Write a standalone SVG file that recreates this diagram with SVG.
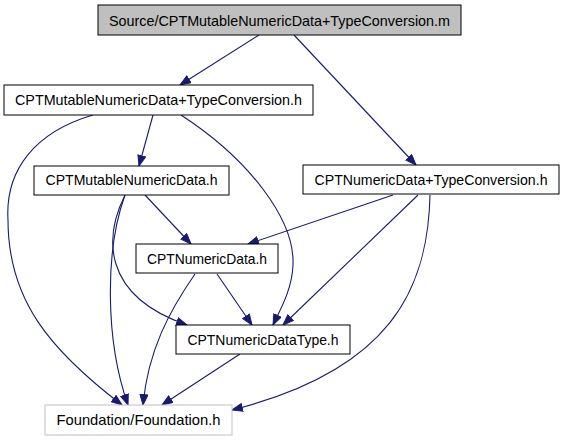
<svg xmlns="http://www.w3.org/2000/svg" width="565" height="443" viewBox="0 0 565 443">
<style>
.box{fill:#ffffff;stroke:#000000;stroke-width:1}
.root{fill:#bfbfbf;stroke:#000000;stroke-width:1}
.ext{fill:#ffffff;stroke:#bfbfbf;stroke-width:1}
.lbl{font-family:"Liberation Sans",Arial,sans-serif;font-size:14.5px;fill:#000000;text-anchor:middle}
.edge{fill:none;stroke:#191970;stroke-width:1.1;marker-end:url(#arr)}
</style>
<defs>
<marker id="arr" markerUnits="userSpaceOnUse" markerWidth="12" markerHeight="10" refX="11" refY="4.5" orient="auto">
<path d="M0.5,0.5 L11,4.5 L0.5,8.5 Z" fill="#191970" stroke="#191970" stroke-width="1"/>
</marker>
</defs>
<rect width="565" height="443" fill="#ffffff"/>
<g id="edges">
<path class="edge" d="M259,35 L180,85"/>
<path class="edge" d="M294,35 L416,165"/>
<path class="edge" d="M153,115 L139,166"/>
<path class="edge" d="M93,115 C35,132 5,170 8,220 C8,300 50,350 122,405"/>
<path class="edge" d="M181,115 C250,160 295,220 293,265 C292,290 280,310 273,325"/>
<path class="edge" d="M145,195 L191,244"/>
<path class="edge" d="M125,195 C105,235 100,295 187,325"/>
<path class="edge" d="M125,195 C105,250 105,340 128,405"/>
<path class="edge" d="M393,195 L248,244"/>
<path class="edge" d="M418,195 L283,325"/>
<path class="edge" d="M430,195 C428,290 390,370 232,410"/>
<path class="edge" d="M217,274 L252,325"/>
<path class="edge" d="M195,274 C170,310 148,350 143,405"/>
<path class="edge" d="M240,354 L162,405"/>
</g>
<g id="node_root">
<rect class="root" x="98" y="5" width="363" height="30"/>
<text class="lbl" x="279.5" y="26" textLength="341" lengthAdjust="spacingAndGlyphs">Source/CPTMutableNumericData+TypeConversion.m</text>
</g>
<g id="node_mut_tc">
<rect class="box" x="4" y="85" width="309" height="30"/>
<text class="lbl" x="158.5" y="105" textLength="287" lengthAdjust="spacingAndGlyphs">CPTMutableNumericData+TypeConversion.h</text>
</g>
<g id="node_mut">
<rect class="box" x="34" y="166" width="195" height="29"/>
<text class="lbl" x="131.5" y="185" textLength="172" lengthAdjust="spacingAndGlyphs">CPTMutableNumericData.h</text>
</g>
<g id="node_num_tc">
<rect class="box" x="303" y="165" width="256" height="29"/>
<text class="lbl" x="431" y="185" textLength="233" lengthAdjust="spacingAndGlyphs">CPTNumericData+TypeConversion.h</text>
</g>
<g id="node_num">
<rect class="box" x="136" y="244" width="142" height="29"/>
<text class="lbl" x="207" y="264" textLength="120" lengthAdjust="spacingAndGlyphs">CPTNumericData.h</text>
</g>
<g id="node_type">
<rect class="box" x="176" y="325" width="174" height="29"/>
<text class="lbl" x="263" y="345" textLength="151" lengthAdjust="spacingAndGlyphs">CPTNumericDataType.h</text>
</g>
<g id="node_foundation">
<rect class="ext" x="45" y="405" width="187" height="30"/>
<text class="lbl" x="138.5" y="425" textLength="164" lengthAdjust="spacingAndGlyphs">Foundation/Foundation.h</text>
</g>
</svg>
